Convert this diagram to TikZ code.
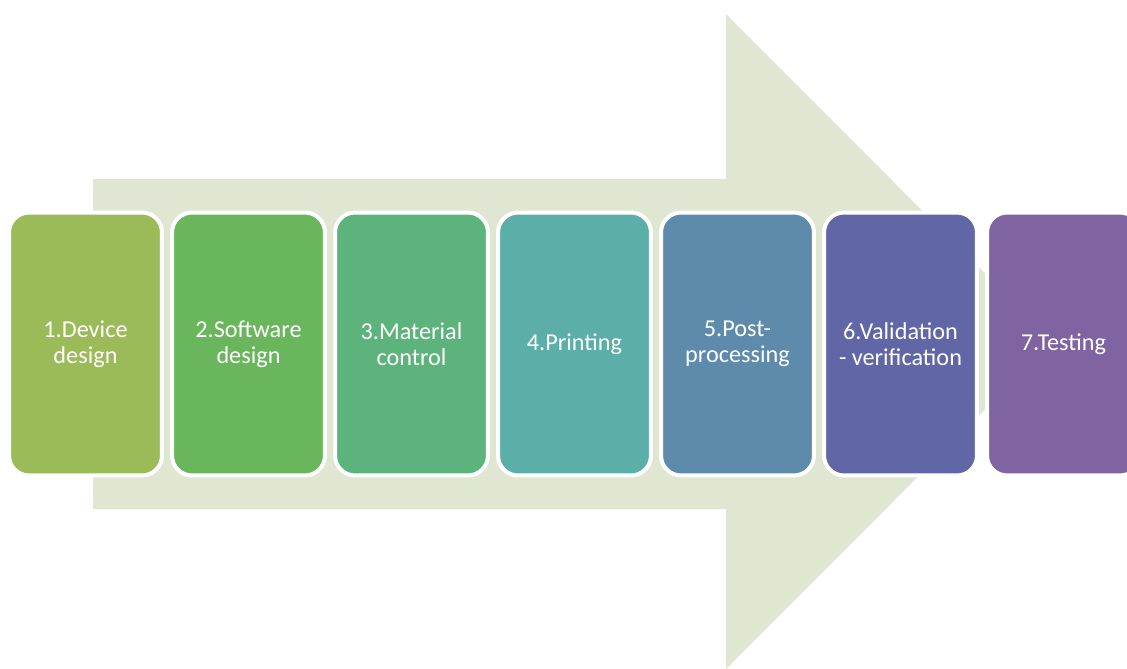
\documentclass[tikz,border=0pt]{standalone}
\usepackage{fontspec}
\setmainfont{Carlito}
\usepackage{tikz}
\definecolor{okYesil}{HTML}{DFE7D2}
\definecolor{adim1}{HTML}{9BBB59}
\definecolor{adim2}{HTML}{69B65C}
\definecolor{adim3}{HTML}{5CB47C}
\definecolor{adim4}{HTML}{5CAFA8}
\definecolor{adim5}{HTML}{5E8BAB}
\definecolor{adim6}{HTML}{6167A6}
\definecolor{adim7}{HTML}{8064A2}
\tikzset{
  adimkutu/.style={draw=white,line width=0.08cm,rounded corners=0.4cm,
    minimum width=3.06cm,minimum height=5.26cm,align=center,text=white,
    font=\fontsize{13.8}{14.8}\selectfont}
}

\begin{document}
\begin{tikzpicture}[x=0.02cm,y=-0.02cm]
\useasboundingbox (0,0) rectangle (1127,669);
% background arrow
\fill[okYesil] (93,179)--(726,179)--(726,14)--(1053,341.5)--(726,669)--(726,509)--(93,509)--cycle;
\node[adimkutu,fill=adim1] (a1) at (85.5,344) {1.Device\\design};
\node[adimkutu,fill=adim2] (a2) at (248.5,344) {2.Software\\design};
\node[adimkutu,fill=adim3] (a3) at (411.5,344) {3.Material\\control};
\node[adimkutu,fill=adim4] (a4) at (574.5,344) {4.Printing};
\node[adimkutu,fill=adim5] (a5) at (737.5,344) {5.Post-\\processing};
\node[adimkutu,fill=adim6] (a6) at (900.5,344) {6.Validation\\- verification};
\node[adimkutu,fill=adim7] (a7) at (1063.5,344) {7.Testing};
\end{tikzpicture}
\end{document}
